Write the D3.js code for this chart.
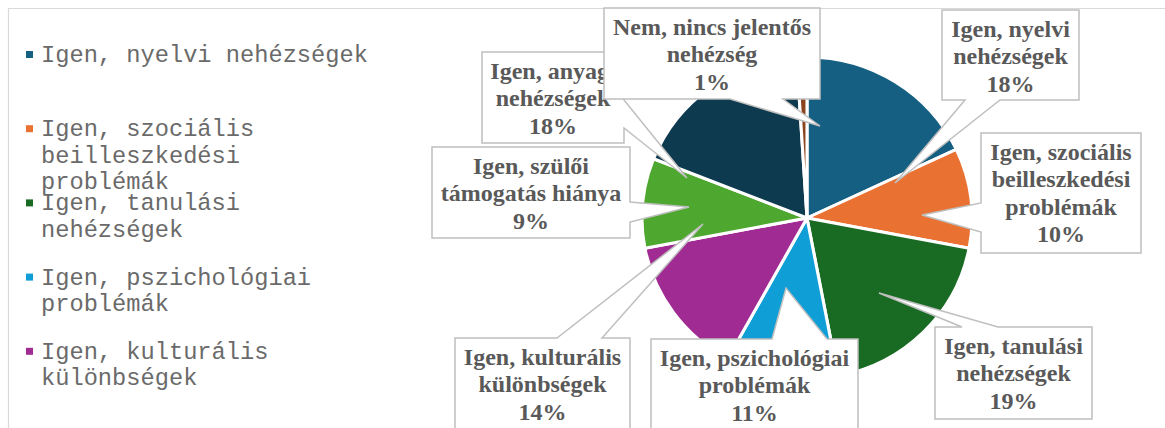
<!DOCTYPE html>
<html>
<head>
<meta charset="utf-8">
<script src="https://cdn.jsdelivr.net/npm/d3@7"></script>
<style>
  body { margin: 0; background: #ffffff; }
  svg { display: block; }
</style>
</head>
<body>
<svg id="chart" width="1165" height="428"></svg>
<script>
// Chart data
var categories = ["Igen, nyelvi nehézségek",
                  "Igen, szociális beilleszkedési problémák",
                  "Igen, tanulási nehézségek",
                  "Igen, pszichológiai problémák",
                  "Igen, kulturális különbségek",
                  "Igen, szülői támogatás hiánya",
                  "Igen, anyagi nehézségek",
                  "Nem, nincs jelentős nehézség"];
var values = [18, 10, 19, 11, 14, 9, 18, 1];
var colors = ["#156082", "#E97132", "#196B24", "#0F9ED5", "#A02B93", "#4EA72E", "#0D3A4E", "#8C441E"];
// the legend only has room for the first five entries
var legendCount = 5;

// Callout boxes: [x0, y0, x1, y1], side of the pointer, pointer base, pointer tip
var callouts = [
  { box: [942, 10, 1079, 100],  side: "bottom", base: [965, 1000], tip: [895, 183] },
  { box: [981, 133, 1141, 253], side: "left",   base: [203, 232],  tip: [922, 215] },
  { box: [935, 327, 1092, 419], side: "top",    base: [962, 998],  tip: [879, 293] },
  { box: [651, 339, 858, 445],  side: "top",    base: [772, 827],  tip: [786, 288] },
  { box: [455, 338, 630, 445],  side: "top",    base: [557, 602],  tip: [703, 224] },
  { box: [432, 147, 630, 238],  side: "right",  base: [202, 222],  tip: [689, 207] },
  { box: [482, 52, 624, 143],   side: "right",  base: [100, 128],  tip: [687, 178] },
  { box: [604, 8, 820, 99],     side: "bottom", base: [730, 783],  tip: [820, 126] }
];

var svg = d3.select("#chart");
var width = +svg.attr("width");
var height = +svg.attr("height");

// Chart area frame (only top and left edges are visible)
svg.append("path")
  .attr("d", "M8.5," + height + " L8.5,8.5 L" + width + ",8.5")
  .attr("fill", "none")
  .attr("stroke", "#d9d9d9")
  .attr("stroke-width", 1.2);

// Pie
var cx = 807, cy = 218, rx = 165, ry = 161;
var total = d3.sum(values);
var pie = d3.pie().sort(null).value(function(d) { return d; });
var arc = d3.arc().innerRadius(0).outerRadius(ry);

var pieG = svg.append("g")
  .attr("transform", "translate(" + cx + "," + cy + ") scale(" + (rx / ry) + ",1)");

pieG.selectAll("path")
  .data(pie(values))
  .enter()
  .append("path")
  .attr("d", arc)
  .attr("fill", function(d, i) { return colors[i]; })
  .attr("stroke", "#ffffff")
  .attr("stroke-width", 3)
  .attr("stroke-linejoin", "round");

// Legend
var legend = svg.append("g");
var legendMaxChars = 23;

function wrapChars(text, maxChars)
{
  var words = text.split(" ");
  var lines = [];
  var line = "";
  words.forEach(function(w) {
    var test = line ? line + " " + w : w;
    if (test.length > maxChars && line)
    {
      lines.push(line);
      line = w;
    }
    else
    {
      line = test;
    }
  });
  lines.push(line);
  return lines;
}

for (var i = 0; i < legendCount; i++)
{
  var baseY = 62 + i * 74.2;
  legend.append("rect")
    .attr("x", 26)
    .attr("y", baseY - 11)
    .attr("width", 7)
    .attr("height", 7)
    .attr("fill", colors[i]);

  var t = legend.append("text")
    .attr("x", 41)
    .attr("y", baseY)
    .attr("font-family", "'Liberation Mono', 'DejaVu Sans Mono', monospace")
    .attr("font-size", "23.7px")
    .attr("fill", "#6a6a6a");

  wrapChars(categories[i], legendMaxChars).forEach(function(line, j) {
    t.append("tspan")
      .attr("x", 41)
      .attr("dy", j === 0 ? 0 : 26.5)
      .text(line);
  });
}

// Callout data labels
function calloutPath(c)
{
  var x0 = c.box[0], y0 = c.box[1], x1 = c.box[2], y1 = c.box[3];
  var a = c.base[0], b = c.base[1];
  var tx = c.tip[0], ty = c.tip[1];
  var p;
  if (c.side === "top")
  {
    p = [[x0, y0], [a, y0], [tx, ty], [b, y0], [x1, y0], [x1, y1], [x0, y1]];
  }
  else if (c.side === "right")
  {
    p = [[x0, y0], [x1, y0], [x1, a], [tx, ty], [x1, b], [x1, y1], [x0, y1]];
  }
  else if (c.side === "bottom")
  {
    p = [[x0, y0], [x1, y0], [x1, y1], [b, y1], [tx, ty], [a, y1], [x0, y1]];
  }
  else
  {
    p = [[x0, y0], [x1, y0], [x1, y1], [x0, y1], [x0, b], [tx, ty], [x0, a]];
  }
  return "M" + p.map(function(q) { return q[0] + "," + q[1]; }).join(" L") + " Z";
}

var labels = svg.append("g");

callouts.forEach(function(c, i) {
  var g = labels.append("g");
  g.append("path")
    .attr("d", calloutPath(c))
    .attr("fill", "#ffffff")
    .attr("stroke", "#bfbfbf")
    .attr("stroke-width", 1.5);

  var midX = (c.box[0] + c.box[2]) / 2;
  var maxW = c.box[2] - c.box[0] - 8;
  var t = g.append("text")
    .attr("x", midX)
    .attr("y", c.box[1] + 26.5)
    .attr("text-anchor", "middle")
    .attr("font-family", "'Liberation Serif', 'Times New Roman', serif")
    .attr("font-weight", "bold")
    .attr("font-size", "24px")
    .attr("fill", "#595959");

  // greedy word wrap to the box width
  var words = categories[i].split(" ");
  var lines = [];
  var line = "";
  var probe = t.append("tspan");
  words.forEach(function(w) {
    var test = line ? line + " " + w : w;
    probe.text(test);
    if (probe.node().getComputedTextLength() > maxW && line)
    {
      lines.push(line);
      line = w;
    }
    else
    {
      line = test;
    }
  });
  lines.push(line);
  probe.remove();
  lines.push(Math.round(values[i] * 100 / total) + "%");

  lines.forEach(function(l, j) {
    t.append("tspan")
      .attr("x", midX)
      .attr("dy", j === 0 ? 0 : 27.5)
      .text(l);
  });
});
</script>
</body>
</html>
